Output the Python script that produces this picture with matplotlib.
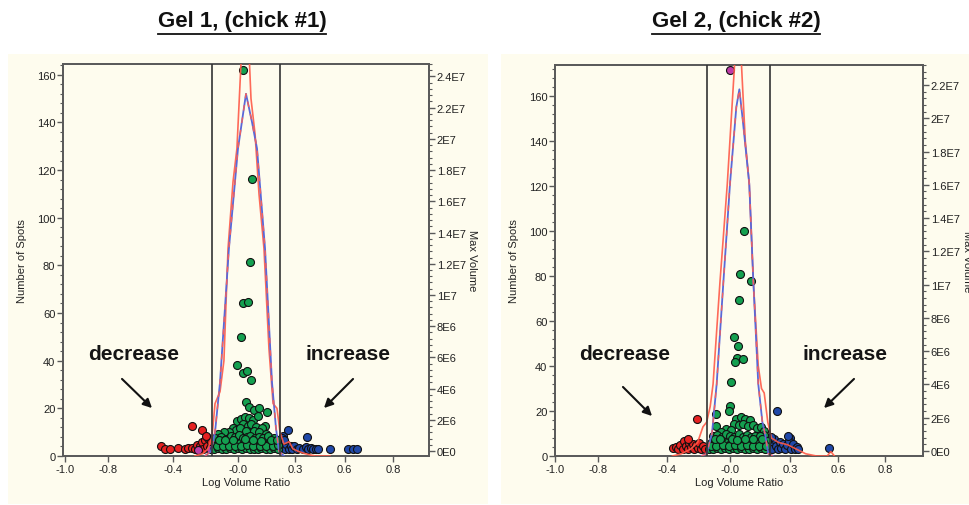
import matplotlib
matplotlib.use("Agg")
import matplotlib.pyplot as plt
from matplotlib.patches import Rectangle, FancyArrowPatch
from matplotlib.lines import Line2D
from matplotlib.ticker import MultipleLocator, FixedLocator

plt.rcParams['font.family'] = ['Liberation Sans', 'DejaVu Sans']

W, H = 970, 506

# ---------------- data: gel 1 ----------------
g1_xticks = [-0.97, -0.73, -0.365, 0.0, 0.32, 0.6, 0.87]
xtick_labels = ['-1.0', '-0.8', '-0.4', '-0.0', '0.3', '0.6', '0.8']
g1_cut = [-0.144, 0.236]

# blue fitted distribution (log ratio, number of spots)
g1_fit_x = [-0.185, -0.152, -0.129, -0.101, -0.051, -0.0, 0.045, 0.079, 0.107, 0.152, 0.191, 0.213, 0.230, 0.258]
g1_fit_n = [0, 2, 10, 31, 87, 129, 152, 140, 129, 87, 31, 12, 2, 0]
# red histogram
g1_hist_x = [-0.242, -0.197, -0.169, -0.146, -0.129, -0.101, -0.079, -0.056, -0.028, -0.006,
             0.017, 0.034, 0.056, 0.073, 0.096, 0.118, 0.146, 0.174, 0.197, 0.219, 0.236,
             0.258, 0.287, 0.309, 0.337, 0.376, 0.433, 0.517]
g1_hist_n = [0, 1, 3, 8, 22, 27, 40, 87, 115, 129, 165, 180, 180, 150, 135, 110, 87, 45, 22, 20,
             10, 5, 6, 3, 2, 1, 0, 0]

# spots: log volume ratio / max volume (millions)
g1_green_x = [0.026, 0.080, 0.067, 0.030, 0.054, 0.019, -0.007, 0.030, 0.049, 0.075, 0.045, 0.064,
              0.090, 0.120, 0.165, 0.152,
              -0.005, 0.015, 0.040, 0.060, 0.085, 0.110, 0.030, 0.055, 0.075, 0.100, 0.135,
              -0.030, -0.010, 0.010, 0.045, 0.090, 0.120, -0.050, 0.160, -0.080, -0.110,
              -0.135, -0.112, -0.090, -0.068, -0.045, -0.022, 0.000, 0.020, 0.043, 0.065, 0.088,
              0.110, 0.132, 0.155, 0.178, 0.200, 0.222,
              -0.124, -0.100, -0.078, -0.056, -0.033, -0.010, 0.010, 0.032, 0.054, 0.077, 0.099,
              0.121, 0.144, 0.167, 0.189, 0.212,
              -0.130, -0.095, -0.065, -0.040, -0.015, 0.005, 0.026, 0.048, 0.070, 0.094, 0.116,
              0.140, 0.170, 0.205,
              -0.118, -0.084, -0.050, -0.018, 0.015, 0.052, 0.084, 0.126, 0.160, 0.196, 0.226,
              -0.108, -0.072, -0.028, 0.038, 0.082, 0.132, 0.186, 0.218]
g1_green_v = [24.4, 17.4, 12.1, 9.46, 9.52, 7.32, 5.50, 4.99, 5.12, 4.54, 3.17, 2.85,
              2.63, 2.74, 2.50, 1.60,
              1.90, 2.05, 2.20, 2.10, 2.00, 2.25, 1.70, 1.60, 1.75, 1.55, 1.45,
              1.45, 1.35, 1.50, 1.30, 1.30, 1.20, 1.20, 1.10, 1.25, 1.10,
              0.15, 0.18, 0.12, 0.16, 0.20, 0.13, 0.17, 0.12, 0.19, 0.14, 0.16,
              0.12, 0.18, 0.15, 0.13, 0.17, 0.14,
              0.50, 0.55, 0.48, 0.58, 0.46, 0.52, 0.60, 0.47, 0.55, 0.50, 0.57,
              0.49, 0.53, 0.46, 0.56, 0.50,
              0.85, 0.92, 0.80, 0.95, 0.88, 1.00, 0.83, 0.90, 0.97, 0.84, 0.92,
              0.86, 0.95, 0.82,
              0.32, 0.35, 0.30, 0.34, 0.31, 0.36, 0.33, 0.30, 0.35, 0.32, 0.36,
              0.70, 0.72, 0.68, 0.74, 0.70, 0.66, 0.72, 0.68]
g1_red_x = [-0.433, -0.410, -0.382, -0.337, -0.300, -0.281, -0.258, -0.242, -0.228, -0.213,
            -0.200, -0.197, -0.185, -0.174, -0.168, -0.157, -0.150, -0.257, -0.200, -0.178]
g1_red_v = [0.30, 0.10, 0.12, 0.18, 0.15, 0.20, 0.22, 0.15, 0.40, 0.30,
            0.55, 0.15, 0.70, 0.35, 0.85, 0.20, 0.55, 1.60, 1.35, 0.95]
g1_mag_x = [-0.222, -0.160]
g1_mag_v = [0.08, 0.10]
g1_blue_x = [0.255, 0.283, 0.389, 0.240, 0.250, 0.264, 0.270, 0.285, 0.295, 0.303, 0.315, 0.331,
             0.345, 0.365, 0.380, 0.393, 0.410, 0.421, 0.440, 0.449, 0.517, 0.618, 0.645, 0.669,
             0.245, 0.260]
g1_blue_v = [0.96, 1.33, 0.92, 0.60, 0.25, 0.12, 0.45, 0.15, 0.35, 0.10, 0.30, 0.12,
             0.20, 0.10, 0.25, 0.12, 0.20, 0.10, 0.12, 0.15, 0.10, 0.10, 0.10, 0.10,
             0.85, 0.70]
g1_vol_ticks = [0, 2, 4, 6, 8, 10, 12, 14, 16, 18, 20, 22, 24]
g1_vol_labels = ['0E0', '2E6', '4E6', '6E6', '8E6', '1E7', '1.2E7', '1.4E7', '1.6E7', '1.8E7',
                 '2E7', '2.2E7', '2.4E7']

# ---------------- data: gel 2 ----------------
g2_xticks = [-0.972, -0.733, -0.35, 0.0, 0.333, 0.6, 0.861]
g2_cut = [-0.128, 0.222]

g2_fit_x = [-0.16, -0.13, -0.10, -0.074, -0.037, 0.0, 0.035, 0.052, 0.07, 0.107, 0.13, 0.157,
            0.18, 0.194, 0.213, 0.24]
g2_fit_n = [0, 1, 10, 32, 77, 121, 155, 163, 150, 121, 77, 32, 15, 10, 1, 0]
g2_hist_x = [-0.32, -0.27, -0.22, -0.18, -0.15, -0.13, -0.11, -0.094, -0.056, -0.015, 0.03, 0.06,
             0.085, 0.107, 0.13, 0.157, 0.175, 0.19, 0.21, 0.23, 0.27, 0.32, 0.37, 0.42, 0.48,
             0.54, 0.56, 0.58]
g2_hist_n = [0, 1, 3, 6, 13, 15, 22, 32, 77, 121, 180, 180, 140, 121, 77, 40, 30, 28, 15, 8, 6,
             5, 3, 1, 0, 0, 2, 0]

g2_green_x = [0.080, 0.056, 0.117, 0.048, 0.020, 0.043, 0.037, 0.074, 0.028, 0.007, 0.0, -0.004,
              -0.078, -0.078,
              0.035, 0.060, 0.085, 0.110, 0.020, 0.048, 0.072, 0.098, 0.125, 0.150, 0.172, 0.190,
              -0.020, 0.005, -0.050, 0.190, 0.205,
              -0.115, -0.093, -0.070, -0.048, -0.026, -0.004, 0.018, 0.040, 0.062, 0.084, 0.106,
              0.128, 0.150, 0.172, 0.194,
              -0.104, -0.082, -0.060, -0.037, -0.015, 0.007, 0.029, 0.051, 0.073, 0.095, 0.117,
              0.139, 0.161, 0.183,
              -0.095, -0.070, -0.045, -0.020, 0.002, 0.025, 0.050, 0.072, 0.095, 0.118, 0.140,
              0.165,
              -0.108, -0.075, -0.040, -0.008, 0.026, 0.060, 0.092, 0.126, 0.160, 0.200,
              -0.085, -0.055, 0.010, 0.040, 0.085, 0.130, 0.178]
g2_green_v = [13.24, 10.63, 10.23, 9.09, 6.88, 6.32, 5.62, 5.52, 5.32, 4.15, 2.71, 2.41,
              2.21, 1.50,
              1.95, 2.05, 1.90, 1.85, 1.60, 1.55, 1.65, 1.50, 1.55, 1.40, 1.45, 1.20,
              1.30, 1.25, 1.15, 0.95, 0.60,
              0.15, 0.12, 0.18, 0.14, 0.20, 0.13, 0.17, 0.12, 0.19, 0.15, 0.13,
              0.18, 0.14, 0.16, 0.12,
              0.50, 0.56, 0.47, 0.58, 0.52, 0.46, 0.55, 0.60, 0.49, 0.54, 0.47,
              0.57, 0.50, 0.53,
              0.88, 0.95, 0.82, 1.00, 0.90, 0.85, 1.02, 0.87, 0.96, 0.84, 0.93,
              0.89,
              0.33, 0.31, 0.35, 0.30, 0.34, 0.32, 0.36, 0.31, 0.33, 0.30,
              0.72, 0.70, 0.74, 0.68, 0.72, 0.70, 0.75]
g2_red_x = [-0.317, -0.300, -0.290, -0.275, -0.262, -0.255, -0.245, -0.235, -0.228, -0.215,
            -0.205, -0.198, -0.190, -0.180, -0.170, -0.160, -0.150, -0.140, -0.185, -0.232]
g2_red_v = [0.20, 0.25, 0.12, 0.35, 0.15, 0.60, 0.30, 0.12, 0.50, 0.25,
            0.45, 0.12, 0.35, 0.20, 0.50, 0.15, 0.30, 0.12, 1.91, 0.75]
g2_mag_x = [0.0]
g2_mag_v = [22.9]
g2_blue_x = [0.263, 0.333, 0.552, 0.225, 0.235, 0.245, 0.255, 0.265, 0.275, 0.285, 0.295, 0.305,
             0.315, 0.325, 0.340, 0.350, 0.360, 0.370, 0.380, 0.320, 0.230]
g2_blue_v = [2.41, 0.80, 0.20, 0.50, 0.15, 0.70, 0.30, 0.12, 0.55, 0.20, 0.45, 0.12,
             0.35, 0.60, 0.15, 0.40, 0.12, 0.25, 0.10, 0.90, 0.85]
g2_vol_ticks = [0, 2, 4, 6, 8, 10, 12, 14, 16, 18, 20, 22]
g2_vol_labels = ['0E0', '2E6', '4E6', '6E6', '8E6', '1E7', '1.2E7', '1.4E7', '1.6E7', '1.8E7',
                 '2E7', '2.2E7']

count_ticks = [0, 20, 40, 60, 80, 100, 120, 140, 160]

CREAM = '#fefcee'
GREEN, RED, BLUE, MAG = '#14a050', '#e52222', '#2048a8', '#c03ca8'
FRAME = '#5a5a5a'


def fx(px):
    return px / W


def fy(py):
    return 1 - py / H


fig = plt.figure(figsize=(W / 100, H / 100), dpi=100)
fig.patch.set_facecolor('white')
for x0, x1 in [(8, 488), (501, 970)]:
    fig.add_artist(Rectangle((fx(x0), fy(505)), fx(x1 - x0), (505 - 55) / H,
                             transform=fig.transFigure, facecolor=CREAM, edgecolor='none',
                             zorder=-5))


def panel(box, xlim, xticks, cut, ylim, vlim, fit_x, fit_n, hist_x, hist_n,
          spots, vticks, vlabels):
    left, top, right, bottom = box
    ax2 = fig.add_axes([fx(left), fy(bottom), fx(right - left), (bottom - top) / H])
    ax = ax2.twinx()
    # left axis holds the counts, right axis holds the volumes
    ax.yaxis.tick_left()
    ax.yaxis.set_label_position('left')
    ax2.yaxis.tick_right()
    ax2.yaxis.set_label_position('right')
    ax2.set_facecolor(CREAM)
    ax.patch.set_visible(False)

    for xs, vs, c in spots:
        ax2.scatter(xs, vs, s=33, c=c, edgecolors='#111111', linewidths=0.8, zorder=3)

    ax.plot(hist_x, hist_n, color='#ff5a48', lw=1.2, alpha=0.9, zorder=4)
    ax.plot(fit_x, fit_n, color='#5a68d8', lw=1.3, zorder=5)
    ax.plot(fit_x, fit_n, color='#f06060', lw=1.0, dashes=(4, 5), zorder=6)
    for c in cut:
        ax.axvline(c, color='#333333', lw=1.2, zorder=7)

    ax.set_xlim(*xlim)
    ax.set_ylim(*ylim)
    ax2.set_ylim(*vlim)

    ax2.xaxis.set_major_locator(FixedLocator(xticks))
    ax2.set_xticklabels(xtick_labels)
    ax.set_yticks(count_ticks)
    ax.yaxis.set_minor_locator(MultipleLocator(4))
    ax2.set_yticks(vticks)
    ax2.set_yticklabels(vlabels)
    ax2.yaxis.set_minor_locator(MultipleLocator(0.4))

    for a in (ax, ax2):
        for s in a.spines.values():
            s.set_color(FRAME)
            s.set_linewidth(1.3)
        a.tick_params(which='major', length=4, width=1, color=FRAME, labelsize=8,
                      labelcolor='#222222', pad=1.5)
        a.tick_params(which='minor', length=2, width=0.8, color=FRAME)

    ax.set_ylabel('Number of Spots', fontsize=8, color='#222222')
    ax.yaxis.set_label_coords(-0.097, 0.5)
    ax2.set_ylabel('Max Volume', fontsize=8, color='#222222', rotation=270, va='bottom')
    ax2.yaxis.set_label_coords(1.105, 0.5)
    ax2.set_xlabel('Log Volume Ratio', fontsize=8, color='#222222')
    ax2.xaxis.set_label_coords(0.5, -0.066)
    ax2.xaxis.label.set_va('center')
    return ax, ax2


panel((63, 65, 429, 457), (-0.983, 1.073), g1_xticks, g1_cut, (0, 164.5), (-0.32, 24.8),
      g1_fit_x, g1_fit_n, g1_hist_x, g1_hist_n,
      [(g1_red_x, g1_red_v, RED), (g1_mag_x, g1_mag_v, MAG), (g1_blue_x, g1_blue_v, BLUE),
       (g1_green_x, g1_green_v, GREEN)],
      g1_vol_ticks, g1_vol_labels)

panel((555, 66, 923, 457), (-0.972, 1.072), g2_xticks, g2_cut, (0, 173.8), (-0.30, 23.2),
      g2_fit_x, g2_fit_n, g2_hist_x, g2_hist_n,
      [(g2_red_x, g2_red_v, RED), (g2_blue_x, g2_blue_v, BLUE), (g2_green_x, g2_green_v, GREEN),
       (g2_mag_x, g2_mag_v, MAG)],
      g2_vol_ticks, g2_vol_labels)

# titles (underlined)
titles = []
for cx, txt in [(242, 'Gel 1, (chick #1)'), (736, 'Gel 2, (chick #2)')]:
    titles.append(fig.text(fx(cx), fy(22), txt, ha='center', va='center', fontsize=16,
                           fontweight='bold', color='#111111'))

# annotations
for cx, cy, txt in [(134, 355, 'decrease'), (348, 355, 'increase'),
                    (625, 355, 'decrease'), (845, 355, 'increase')]:
    fig.text(fx(cx), fy(cy), txt, ha='center', va='center', fontsize=15, fontweight='bold',
             color='#151515')

for (x0, y0), (x1, y1) in [((120, 378), (154, 411)), ((355, 378), (322, 411)),
                           ((621, 386), (654, 419)), ((856, 378), (822, 411))]:
    fig.add_artist(FancyArrowPatch(
        (fx(x0), fy(y0)), (fx(x1), fy(y1)), transform=fig.transFigure,
        arrowstyle='-|>', mutation_scale=13, lw=1.5, color='#111111'))

fig.canvas.draw()
r = fig.canvas.get_renderer()
for t in titles:
    bb = t.get_window_extent(r).transformed(fig.transFigure.inverted())
    fig.add_artist(Line2D([bb.x0, bb.x1], [bb.y0 - 0.004, bb.y0 - 0.004], transform=fig.transFigure,
                          color='#111111', lw=1.3))

fig.savefig('out.png', dpi=100, facecolor='white')
